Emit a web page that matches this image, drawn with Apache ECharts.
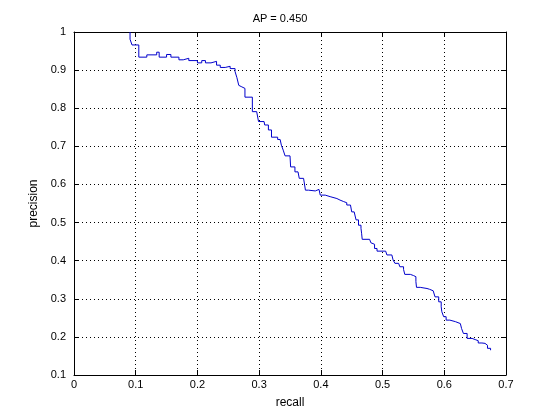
<!DOCTYPE html>
<html>
<head>
<meta charset="utf-8">
<script src="https://cdn.jsdelivr.net/npm/echarts@6/dist/echarts.min.js"></script>
<style>html,body{margin:0;padding:0;background:#fff;}#c{width:560px;height:420px;}</style>
</head>
<body>
<div id="c"></div>
<script>
var titleText = 'AP = 0.450';
var xTicks = [0, 0.1, 0.2, 0.3, 0.4, 0.5, 0.6, 0.7];
var yTicks = [0.1, 0.2, 0.3, 0.4, 0.5, 0.6, 0.7, 0.8, 0.9, 1];
var recall = [0.0908,0.0908,0.094,0.094,0.105,0.105,0.118,0.118,0.134,0.134,0.138,0.138,0.150,0.150,0.157,0.157,0.170,0.170,0.177,0.177,0.186,0.186,0.200,0.200,0.207,0.207,0.213,0.213,0.222,0.222,0.231,0.231,0.237,0.237,0.245,0.245,0.253,0.253,0.261,0.261,0.264,0.267,0.269,0.272,0.277,0.277,0.289,0.289,0.296,0.299,0.308,0.309,0.315,0.320,0.320,0.330,0.334,0.336,0.339,0.342,0.350,0.351,0.358,0.363,0.365,0.372,0.375,0.380,0.391,0.397,0.399,0.407,0.415,0.426,0.431,0.437,0.442,0.448,0.450,0.454,0.457,0.461,0.465,0.466,0.467,0.479,0.481,0.484,0.487,0.491,0.505,0.507,0.515,0.517,0.520,0.526,0.528,0.534,0.536,0.545,0.550,0.554,0.555,0.561,0.572,0.576,0.582,0.585,0.591,0.595,0.596,0.599,0.603,0.609,0.618,0.626,0.628,0.631,0.637,0.645,0.650,0.655,0.661,0.666,0.670,0.675];
var precision = [1.0,0.981,0.981,0.966,0.966,0.934,0.937,0.940,0.942,0.947,0.947,0.934,0.938,0.941,0.941,0.934,0.934,0.927,0.927,0.931,0.931,0.925,0.925,0.919,0.919,0.925,0.925,0.919,0.919,0.923,0.923,0.913,0.913,0.907,0.907,0.910,0.910,0.904,0.904,0.896,0.880,0.860,0.856,0.852,0.852,0.829,0.829,0.791,0.787,0.765,0.765,0.756,0.743,0.738,0.724,0.718,0.715,0.703,0.690,0.675,0.675,0.646,0.633,0.629,0.616,0.612,0.585,0.583,0.587,0.590,0.572,0.568,0.563,0.559,0.555,0.552,0.546,0.541,0.528,0.526,0.507,0.493,0.485,0.472,0.456,0.456,0.447,0.443,0.432,0.425,0.425,0.415,0.412,0.402,0.393,0.390,0.384,0.377,0.364,0.361,0.358,0.345,0.330,0.327,0.325,0.321,0.317,0.305,0.292,0.279,0.266,0.253,0.244,0.240,0.235,0.234,0.222,0.209,0.196,0.193,0.190,0.184,0.183,0.178,0.170,0.165];

var pts = recall.map(function (r, i) { return [r, precision[i]]; });
var FONT = 'Liberation Sans, Arial, sans-serif';
var chart = echarts.init(document.getElementById('c'), null, {renderer: 'canvas'});
var gridLine = {show: true, lineStyle: {color: '#000', type: [1, 3], width: 1}};
var axLine = {show: true, onZero: false, lineStyle: {color: '#000', width: 1}};
var tick = {show: true, inside: true, length: 5, lineStyle: {color: '#000'}};
chart.setOption({
  backgroundColor: '#fff',
  animation: false,
  title: {text: titleText, left: 'center', top: 8, textStyle: {fontFamily: FONT, fontSize: 11, fontWeight: 'normal', color: '#000'}},
  grid: {left: 74, right: 54, top: 32, bottom: 45, containLabel: false},
  xAxis: [{
    type: 'value', min: 0, max: 0.7, interval: 0.1, position: 'bottom',
    name: 'recall', nameLocation: 'middle', nameGap: 22,
    nameTextStyle: {fontFamily: FONT, fontSize: 12, color: '#000'},
    axisLine: axLine, axisTick: tick, splitLine: gridLine,
    axisLabel: {fontFamily: FONT, fontSize: 11, color: '#000', margin: 4,
      formatter: function (v) { var m = xTicks.filter(function (t) { return Math.abs(t - v) < 1e-9; }); return m.length ? String(m[0]) : ''; }}
  }, {
    type: 'value', min: 0, max: 0.7, interval: 0.1, position: 'top',
    axisLine: axLine, axisTick: tick, splitLine: {show: false}, axisLabel: {show: false}
  }],
  yAxis: [{
    type: 'value', min: 0.1, max: 1, interval: 0.1, position: 'left',
    name: 'precision', nameLocation: 'middle', nameGap: 27, nameRotate: 90,
    nameTextStyle: {fontFamily: FONT, fontSize: 12, color: '#000'},
    axisLine: axLine, axisTick: tick, splitLine: gridLine,
    axisLabel: {fontFamily: FONT, fontSize: 11, color: '#000', margin: 8,
      formatter: function (v) { var m = yTicks.filter(function (t) { return Math.abs(t - v) < 1e-9; }); return m.length ? String(m[0]) : ''; }}
  }, {
    type: 'value', min: 0.1, max: 1, interval: 0.1, position: 'right',
    axisLine: axLine, axisTick: tick, splitLine: {show: false}, axisLabel: {show: false}
  }],
  series: [{
    type: 'line', data: pts, step: 'end', showSymbol: false, symbol: 'none',
    lineStyle: {color: '#0000cc', width: 1}, xAxisIndex: 0, yAxisIndex: 0
  }]
});
</script>
</body>
</html>
